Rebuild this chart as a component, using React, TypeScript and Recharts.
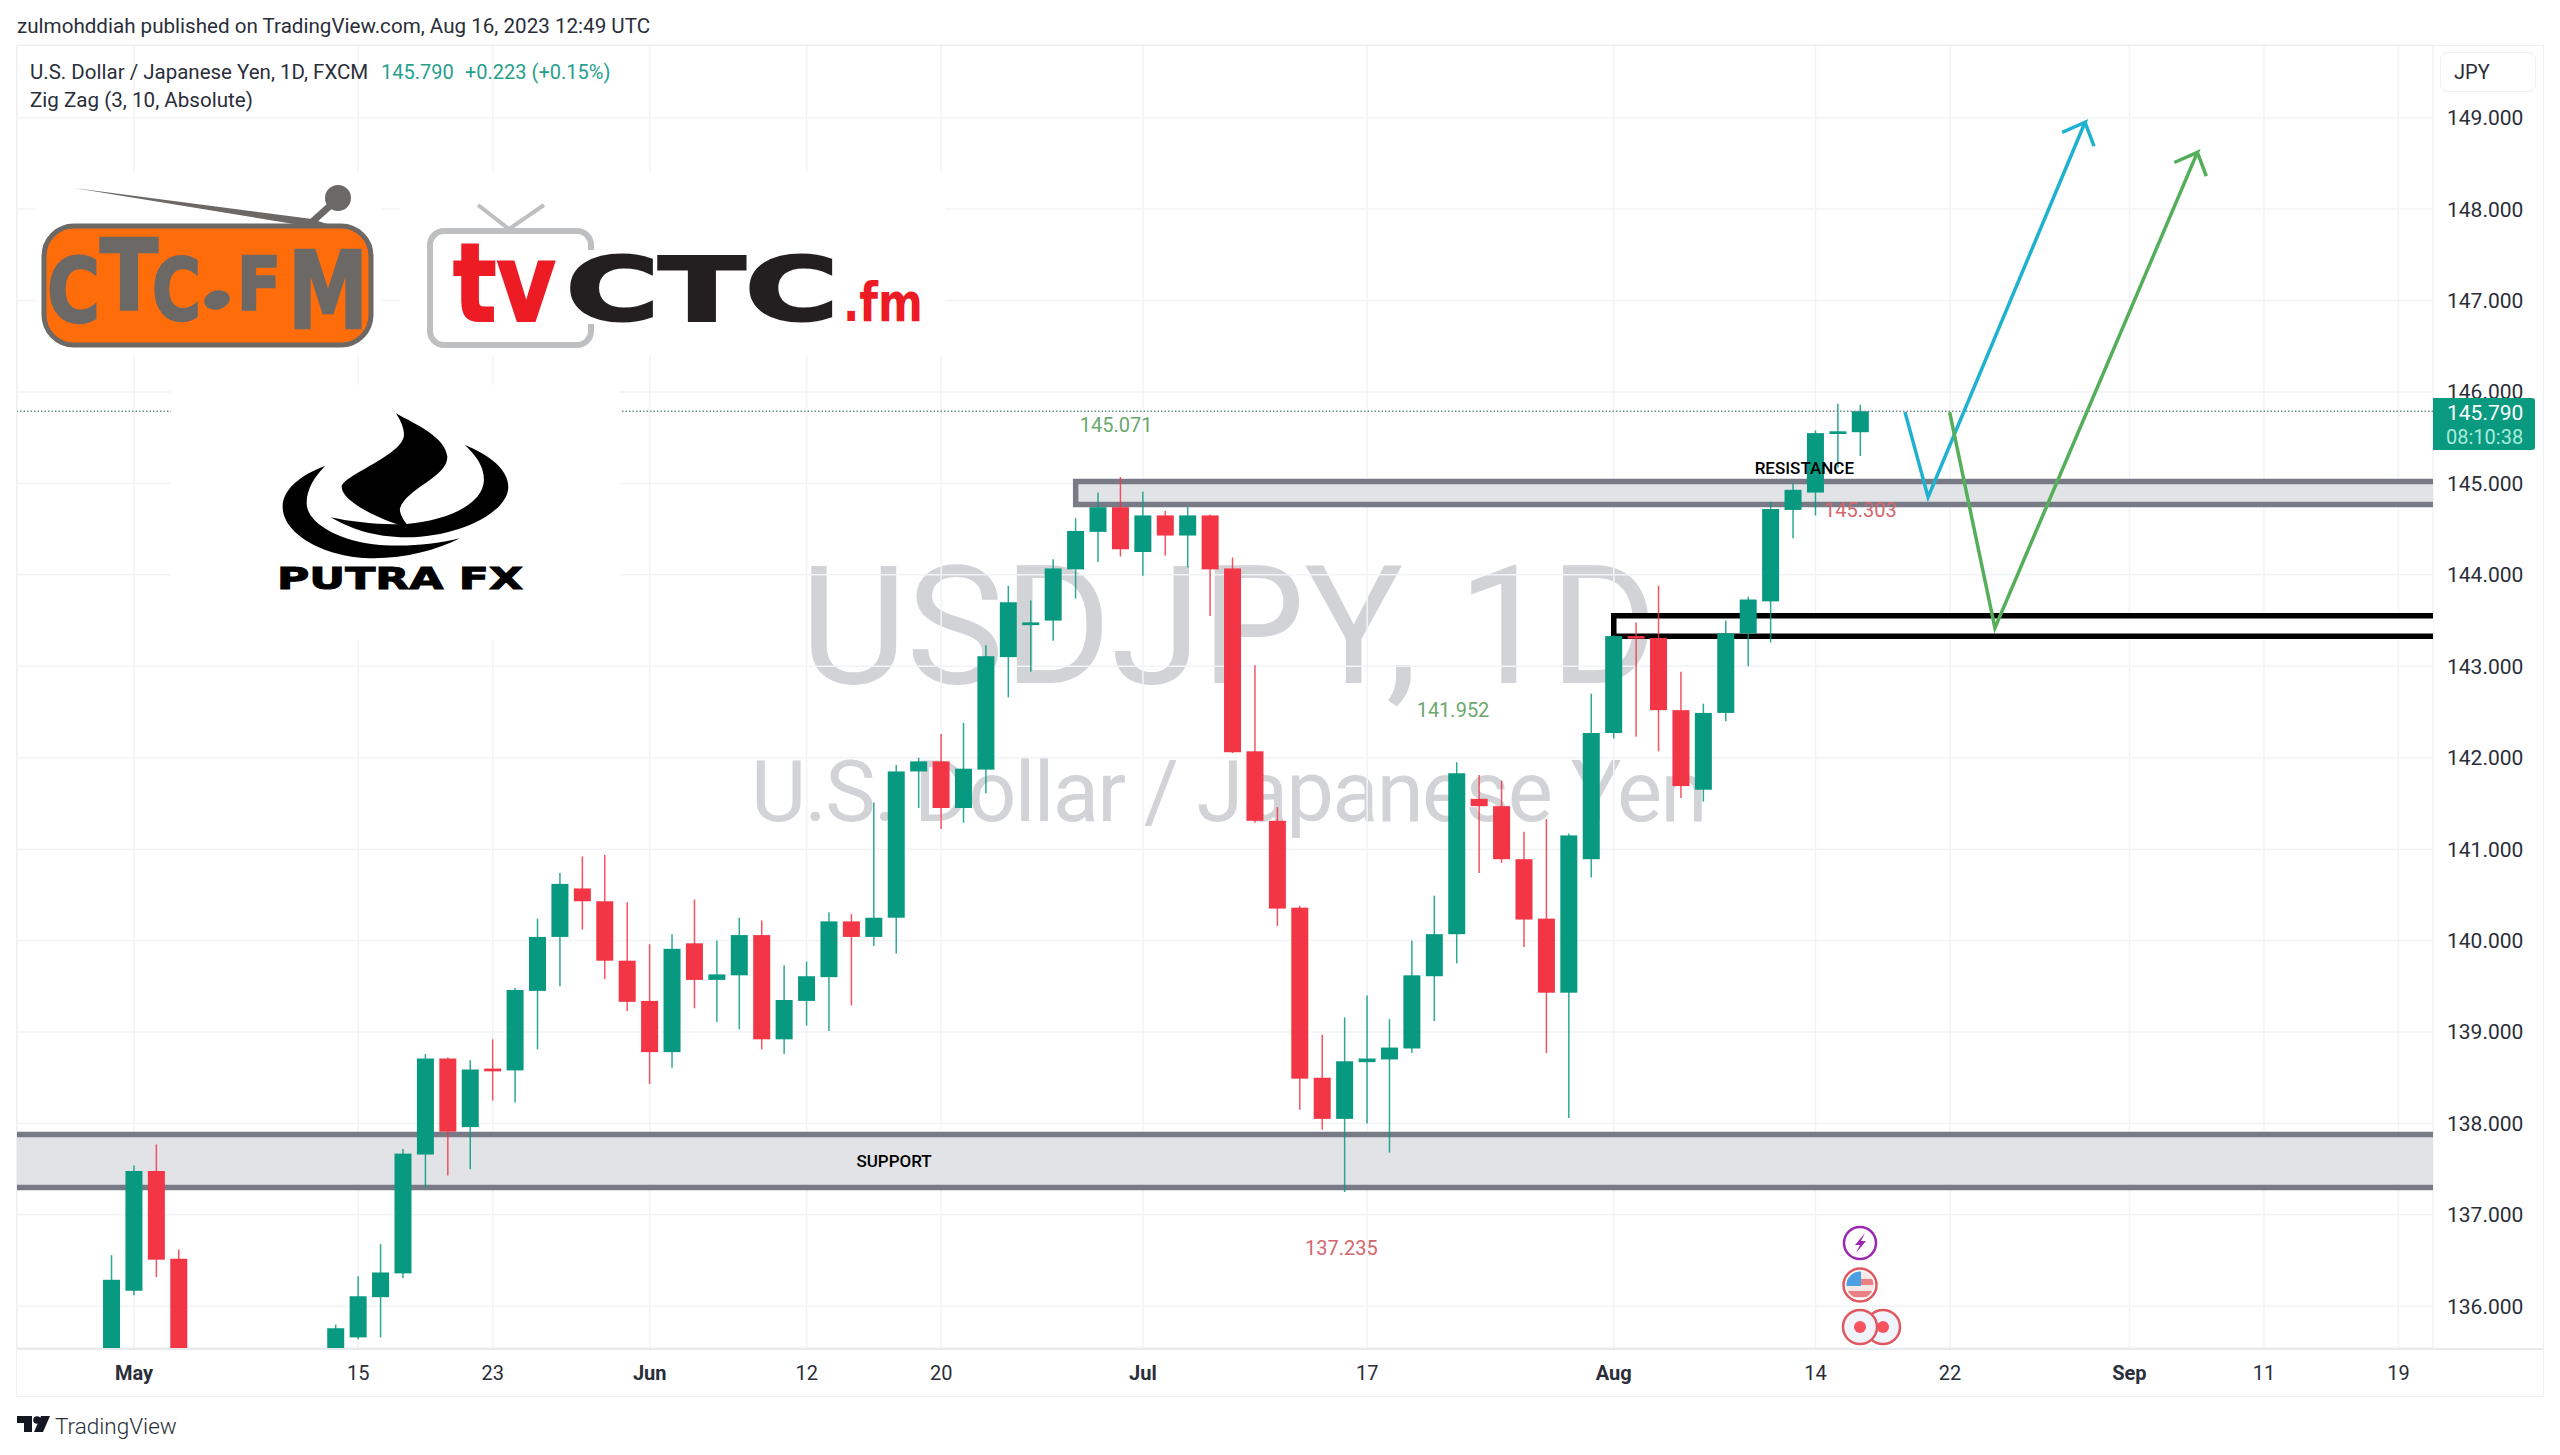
import {
  Bar,
  CartesianGrid,
  ComposedChart,
  Line,
  ReferenceArea,
  ReferenceDot,
  ReferenceLine,
  XAxis,
  YAxis,
} from 'recharts';

const FONT = 'Roboto, sans-serif';
const UP = '#089981';
const DOWN = '#f23645';
const ZONE_GREY = '#787b86';
const CANDLE_WIDTH = 17;

// first bar is Apr 28, bar index 0 = May 1, ten bars per row
const FIRST_BAR = -1;
const opens = [
  133.9, 136.17, 137.48, 136.52, 134.7, 134.2, 134.8, 135.1, 135.2, 134.4,
  134.6, 135.66, 136.1, 136.36, 137.66, 138.71, 137.96, 138.6, 138.58, 139.45,
  140.04, 140.57, 140.43, 139.78, 139.34, 138.78, 139.97, 139.57, 139.62, 140.06,
  138.92, 139.34, 139.6, 140.21, 140.04, 140.25, 141.85, 141.96, 141.45, 141.87,
  143.1, 143.45, 143.5, 144.06, 144.47, 144.74, 144.25, 144.65, 144.43, 144.65,
  144.07, 142.07, 141.31, 140.36, 138.5, 138.05, 138.67, 138.7, 138.82, 139.61,
  140.07, 141.55, 141.47, 140.89, 140.24, 139.43, 140.89, 142.27, 143.33, 143.31,
  142.52, 141.65, 142.49, 143.36, 143.71, 144.71, 144.9, 145.54, 145.56,
];
const highs = [
  136.56, 137.54, 137.77, 136.62, 135.1, 135.2, 135.4, 135.45, 135.4, 135.1,
  135.8, 136.33, 136.68, 137.72, 138.76, 138.72, 138.69, 138.92, 139.48, 140.24,
  140.74, 140.92, 140.94, 140.42, 139.96, 140.07, 140.45, 140.0, 140.25, 140.22,
  139.73, 139.77, 140.31, 140.29, 141.51, 141.92, 142.0, 142.26, 142.38, 143.23,
  143.88, 143.72, 144.17, 144.62, 144.9, 145.07, 144.91, 144.7, 144.74, 144.66,
  144.19, 143.01, 141.46, 140.38, 138.97, 139.16, 139.4, 139.14, 140.0, 140.49,
  141.95, 141.81, 141.75, 141.19, 141.33, 141.17, 142.7, 143.34, 143.48, 143.88,
  142.94, 142.59, 143.5, 143.76, 144.8, 145.0, 145.58, 145.87, 145.86,
];
const lows = [
  133.8, 136.12, 136.32, 134.5, 133.7, 134.0, 134.4, 134.6, 134.2, 134.0,
  134.5, 135.64, 135.66, 136.31, 137.3, 137.43, 137.5, 138.25, 138.23, 138.81,
  139.5, 140.12, 139.58, 139.23, 138.43, 138.61, 139.26, 139.11, 139.03, 138.81,
  138.76, 139.07, 139.01, 139.29, 139.94, 139.86, 141.45, 141.22, 141.29, 141.61,
  142.66, 142.94, 143.28, 143.74, 144.14, 144.2, 143.99, 144.21, 144.08, 143.55,
  142.05, 141.29, 140.16, 138.15, 137.93, 137.25, 138.0, 137.68, 138.77, 139.12,
  139.75, 140.74, 140.85, 139.93, 138.77, 138.06, 140.69, 142.21, 142.23, 142.07,
  141.56, 141.52, 142.4, 143.0, 143.26, 144.4, 144.65, 145.17, 145.3,
];
const closes = [
  136.29, 137.48, 136.51, 134.7, 134.2, 134.8, 135.1, 135.2, 134.4, 134.5,
  135.76, 136.11, 136.37, 137.67, 138.71, 137.91, 138.59, 138.57, 139.46, 140.04,
  140.62, 140.43, 139.78, 139.33, 138.78, 139.91, 139.57, 139.63, 140.06, 138.92,
  139.35, 139.61, 140.21, 140.04, 140.25, 141.85, 141.96, 141.45, 141.88, 143.11,
  143.7, 143.48, 144.07, 144.48, 144.74, 144.28, 144.65, 144.43, 144.65, 144.06,
  142.06, 141.31, 140.35, 138.49, 138.05, 138.68, 138.71, 138.83, 139.62, 140.07,
  141.83, 141.47, 140.89, 140.23, 139.43, 141.15, 142.27, 143.33, 143.31, 142.52,
  141.69, 142.49, 143.36, 143.73, 144.72, 144.93, 145.55, 145.57, 145.79,
];

const xTicks = [0, 10, 16, 23, 30, 36, 45, 55, 66, 75, 81, 89, 95, 101];
const xLabels = ['May', '15', '23', 'Jun', '12', '20', 'Jul', '17', 'Aug', '14', '22', 'Sep', '11', '19'];
const monthLabels = ['May', 'Jun', 'Jul', 'Aug', 'Sep'];
const yTicks = [136, 137, 138, 139, 140, 141, 142, 143, 144, 145, 146, 147, 148, 149];

const lastPrice = 145.79;
const resistance = { fromBar: 42, top: 145.02, bottom: 144.77 };
const demand = { fromBar: 66, top: 143.553, bottom: 143.328 };
const support = { top: 137.88, bottom: 137.3 };

// forecast drawings, bar index and price, arrow head at the end
const blueBars = [78.99, 80.02, 87.02, 86.0, 87.02, 87.42];
const bluePrices = [145.78, 144.85, 148.95, 148.84, 148.95, 148.69];
const greenBars = [80.98, 83.0, 92.03, 91.0, 92.03, 92.43];
const greenPrices = [145.78, 143.42, 148.62, 148.51, 148.62, 148.36];

const zigzagLabels = [
  { text: '145.071', bar: 43.8, price: 145.64, color: '#6aa86e' },
  { text: '141.952', bar: 58.83, price: 142.52, color: '#6aa86e' },
  { text: '137.235', bar: 53.85, price: 136.64, color: '#d4666e' },
  { text: '145.303', bar: 77.0, price: 144.71, color: '#d4666e' },
];

const X_MIN = -5.22;
const X_MAX = 102.54;

const candles = closes.map((close, n) => ({
  bar: FIRST_BAR + n,
  open: opens[n],
  close,
  range: [lows[n], highs[n]],
}));
const blueLine = blueBars.map((bar, n) => ({ bar, price: bluePrices[n] }));
const greenLine = greenBars.map((bar, n) => ({ bar, price: greenPrices[n] }));

function Candle(props: any) {
  const { x, y, width, height, payload } = props;
  const [low, high] = payload.range;
  const perUnit = height / (high - low);
  const bodyTop = y + (high - Math.max(payload.open, payload.close)) * perUnit;
  const bodyHeight = Math.max(Math.abs(payload.open - payload.close) * perUnit, 2.5);
  const color = payload.close >= payload.open ? UP : DOWN;
  const mid = x + width / 2;
  return (
    <g>
      <line x1={mid} x2={mid} y1={y} y2={y + height} stroke={color} strokeWidth={1.5} strokeOpacity={0.85} />
      <rect x={mid - CANDLE_WIDTH / 2} y={bodyTop} width={CANDLE_WIDTH} height={bodyHeight} fill={color} />
    </g>
  );
}

function OpenRightZone(props: any) {
  const { x, y, width, height, stroke, fill } = props;
  const right = x + width;
  return (
    <g>
      <rect x={x} y={y} width={width} height={height} fill={fill} />
      <path d={`M${right} ${y}H${x}V${y + height}H${right}`} fill="none" stroke={stroke} strokeWidth={5.5} />
    </g>
  );
}

function LinesOnlyZone(props: any) {
  const { x, y, width, height, stroke, fill } = props;
  const right = x + width;
  return (
    <g>
      <rect x={x} y={y} width={width} height={height} fill={fill} />
      <path d={`M${x} ${y}H${right}M${x} ${y + height}H${right}`} fill="none" stroke={stroke} strokeWidth={5.5} />
    </g>
  );
}

function TimeTick(props: any) {
  const { x, payload } = props;
  const label = xLabels[xTicks.indexOf(payload.value)];
  const isMonth = monthLabels.includes(label);
  return (
    <text
      x={x}
      y={1373}
      textAnchor="middle"
      dominantBaseline="central"
      fontFamily={FONT}
      fontSize={20}
      fontWeight={isMonth ? 700 : 400}
      fill="#2a2e39"
    >
      {label}
    </text>
  );
}

function PriceChart() {
  return (
    <ComposedChart
      width={2560}
      height={1455}
      data={candles}
      margin={{ top: 45, left: 17, right: 17, bottom: 59 }}
      style={{ position: 'absolute', left: 0, top: 0 }}
    >
      <CartesianGrid stroke="#f1f3f6" strokeWidth={1.5} />
      <XAxis
        type="number"
        dataKey="bar"
        domain={[X_MIN, X_MAX]}
        ticks={xTicks}
        interval={0}
        allowDataOverflow
        height={48}
        axisLine={false}
        tickLine={false}
        tick={<TimeTick />}
      />
      <YAxis
        orientation="right"
        type="number"
        domain={[135.544, 149.795]}
        ticks={yTicks}
        interval={0}
        allowDataOverflow
        width={110}
        axisLine={false}
        tickLine={false}
        tickMargin={8}
        tick={{ fill: '#2a2e39', fontSize: 21, fontFamily: FONT }}
        tickFormatter={(value: number) => value.toFixed(3)}
      />
      <ReferenceLine y={lastPrice} stroke="#6b8f88" strokeWidth={1.5} strokeDasharray="1.5 2" />
      {zigzagLabels.map((item) => (
        <ReferenceDot
          key={item.text}
          x={item.bar}
          y={item.price}
          r={0}
          label={{ value: item.text, position: 'center', fill: item.color, fontSize: 20, fontFamily: FONT }}
        />
      ))}
      <ReferenceArea
        x1={X_MIN}
        x2={X_MAX}
        y1={support.bottom}
        y2={support.top}
        fill="#e2e3e6"
        fillOpacity={1}
        stroke={ZONE_GREY}
        shape={<LinesOnlyZone />}
      />
      <ReferenceArea
        x1={resistance.fromBar}
        x2={X_MAX}
        y1={resistance.bottom}
        y2={resistance.top}
        fill="#e2e3e6"
        fillOpacity={1}
        stroke={ZONE_GREY}
        shape={<OpenRightZone />}
      />
      <ReferenceArea
        x1={demand.fromBar}
        x2={X_MAX}
        y1={demand.bottom}
        y2={demand.top}
        fill="#ffffff"
        fillOpacity={1}
        stroke="#000000"
        shape={<OpenRightZone />}
      />
      <ReferenceDot
        x={33.9}
        y={137.59}
        r={0}
        label={{ value: 'SUPPORT', position: 'center', fill: '#000', fontSize: 17, fontWeight: 500, fontFamily: FONT }}
      />
      <ReferenceDot
        x={74.5}
        y={145.17}
        r={0}
        label={{ value: 'RESISTANCE', position: 'center', fill: '#000', fontSize: 17, fontWeight: 500, fontFamily: FONT }}
      />
      <Bar dataKey="range" shape={<Candle />} isAnimationActive={false} />
      <Line
        data={blueLine}
        dataKey="price"
        type="linear"
        stroke="#1fb2d0"
        strokeWidth={3.5}
        dot={false}
        activeDot={false}
        isAnimationActive={false}
      />
      <Line
        data={greenLine}
        dataKey="price"
        type="linear"
        stroke="#55ae5a"
        strokeWidth={3.5}
        dot={false}
        activeDot={false}
        isAnimationActive={false}
      />
    </ComposedChart>
  );
}

function Logos() {
  const bold = 'DejaVu Sans, sans-serif';
  const ctcLetters = [
    { c: 'C', x: 47, w: 53, top: 257, base: 322 },
    { c: 'T', x: 100, w: 58, top: 238, base: 310 },
    { c: 'C', x: 152, w: 49, top: 257, base: 320 },
    { c: 'F', x: 237, w: 44, top: 257, base: 310 },
    { c: 'M', x: 288, w: 80, top: 250, base: 328 },
  ];
  return (
    <svg width={2560} height={1455} style={{ position: 'absolute', left: 0, top: 0 }}>
      <rect x={36} y={172} width={346} height={183} fill="#fff" />
      <rect x={400} y={172} width={545} height={183} fill="#fff" />
      <rect x={171} y={385} width={449} height={255} fill="#fff" />

      {/* CTC.FM radio */}
      <path d="M74 188 L312 219 L330 225 L300 225 Z" fill="#6b6866" />
      <line x1={312} y1={222} x2={332} y2={204} stroke="#6b6866" strokeWidth={7} />
      <circle cx={338} cy={198} r={13} fill="#6b6866" />
      <rect x={44} y={226} width={327} height={119} rx={30} fill="#ff6d0a" stroke="#6b6866" strokeWidth={5} />
      {ctcLetters.map((l, n) => (
        <text
          key={n}
          x={l.x}
          y={l.base}
          fontFamily={bold}
          fontWeight={700}
          fontSize={(l.base - l.top) / 0.73}
          textLength={l.w}
          lengthAdjust="spacingAndGlyphs"
          fill="#6b6866"
          stroke="#6b6866"
          strokeWidth={2.5}
        >
          {l.c}
        </text>
      ))}
      <ellipse cx={217} cy={300} rx={13} ry={9.5} fill="#6b6866" transform="rotate(-15 217 300)" />

      {/* tvCTC.fm */}
      <path d="M478 205 L509 229 L544 205" fill="none" stroke="#bdbfc1" strokeWidth={4} />
      <rect x={430} y={231} width={161} height={114} rx={14} fill="#fff" stroke="#bdbfc1" strokeWidth={6} />
      <rect x={570} y={250} width={40} height={74} fill="#fff" />
      <text x={453} y={321} fontFamily={bold} fontWeight={700} fontSize={108} textLength={103} lengthAdjust="spacingAndGlyphs" fill="#ed1c24" stroke="#ed1c24" strokeWidth={2}>
        tv
      </text>
      <text x={566} y={320} fontFamily={bold} fontWeight={700} fontSize={88} textLength={272} lengthAdjust="spacingAndGlyphs" fill="#231f20" stroke="#231f20" strokeWidth={3}>
        CTC
      </text>
      <text x={843} y={321} fontFamily={bold} fontWeight={700} fontSize={53} textLength={80} lengthAdjust="spacingAndGlyphs" fill="#ed1c24">
        .fm
      </text>

      {/* PUTRA FX */}
      <g transform="translate(200 380) scale(0.3333)" fill="#000">
        <path d="M588 100 C650 135 735 170 742 230 C745 290 620 325 600 385 C598 400 610 420 622 434 L600 436 C520 410 425 360 425 320 C430 285 610 225 612 165 C612 140 600 120 588 100 Z" />
        <path d="M795 195 C870 225 925 270 925 320 C925 400 770 472 620 472 C520 472 450 445 392 412 C450 425 540 436 620 432 C750 420 850 370 852 300 C852 255 825 225 795 195 Z" />
        <path d="M375 258 C300 285 248 330 248 380 C248 465 380 535 520 535 C620 535 710 510 780 475 C700 495 620 500 540 495 C420 485 320 430 320 370 C320 325 345 290 375 258 Z" />
      </g>
      <text x={277} y={589} fontFamily={bold} fontWeight={700} fontSize={30} textLength={246} lengthAdjust="spacingAndGlyphs" fill="#000" stroke="#000" strokeWidth={1}>
        PUTRA FX
      </text>

      {/* chart event markers */}
      <circle cx={1860} cy={1243} r={16} fill="#fff" stroke="#9c27b0" strokeWidth={2.5} />
      <path d="M1865 1233 L1855 1245 L1860 1245 L1856 1253 L1866 1241 L1861 1241 Z" fill="#9c27b0" />
      <clipPath id="flagClip">
        <circle cx={1860} cy={1285} r={13.5} />
      </clipPath>
      <circle cx={1860} cy={1285} r={16.5} fill="#fff" stroke="#e0585f" strokeWidth={2.5} />
      <g clipPath="url(#flagClip)">
        <rect x={1846} y={1271} width={28} height={28} fill="#f7e6e6" />
        <rect x={1846} y={1279} width={28} height={6} fill="#ea7f84" />
        <rect x={1846} y={1291} width={28} height={6} fill="#ea7f84" />
        <rect x={1846} y={1271} width={15} height={15} fill="#4c9fe0" />
      </g>
      <circle cx={1883} cy={1327} r={17} fill="#f0f3fa" stroke="#e0585f" strokeWidth={2.5} />
      <circle cx={1883} cy={1327} r={6} fill="#f7525f" />
      <circle cx={1860} cy={1327} r={17} fill="#f0f3fa" stroke="#e0585f" strokeWidth={2.5} />
      <circle cx={1860} cy={1327} r={6} fill="#f7525f" />
    </svg>
  );
}

function Chrome() {
  const textBase = { position: 'absolute' as const, fontFamily: FONT, whiteSpace: 'nowrap' as const, lineHeight: 1 };
  return (
    <>
      <div style={{ ...textBase, left: 17, top: 16, fontSize: 20.6, color: '#2a2e39' }}>
        zulmohddiah published on TradingView.com, Aug 16, 2023 12:49 UTC
      </div>
      <div style={{ ...textBase, left: 30, top: 62, fontSize: 20.5, color: '#2a2e39' }}>
        U.S. Dollar / Japanese Yen, 1D, FXCM
      </div>
      <div style={{ ...textBase, left: 381, top: 62, fontSize: 20, color: '#26a08c' }}>145.790</div>
      <div style={{ ...textBase, left: 465, top: 62, fontSize: 20, color: '#26a08c' }}>+0.223 (+0.15%)</div>
      <div style={{ ...textBase, left: 30, top: 90, fontSize: 20.6, color: '#2a2e39' }}>Zig Zag (3, 10, Absolute)</div>

      <div
        style={{
          position: 'absolute',
          left: 2440,
          top: 52,
          width: 94,
          height: 38,
          border: '1.5px solid #eef0f4',
          borderRadius: 8,
        }}
      />
      <div style={{ ...textBase, left: 2454, top: 62, fontSize: 20, color: '#2a2e39' }}>JPY</div>

      <div
        style={{
          position: 'absolute',
          left: 2433,
          top: 398,
          width: 102,
          height: 52,
          background: '#0a9a80',
          borderRadius: '0 3px 3px 0',
        }}
      />
      <div style={{ ...textBase, left: 2447, top: 403, fontSize: 21, color: '#ffffff' }}>145.790</div>
      <div style={{ ...textBase, left: 2446, top: 427, fontSize: 20, color: '#a8ecdc' }}>08:10:38</div>

      {/* frame */}
      <div
        style={{
          position: 'absolute',
          left: 16,
          top: 45,
          width: 2526,
          height: 1350,
          border: '1.5px solid #eef0f4',
          pointerEvents: 'none',
        }}
      />
      <div style={{ position: 'absolute', left: 17, top: 1348, width: 2526, height: 1.5, background: '#e8eaee' }} />

      {/* footer */}
      <svg width={34} height={18} style={{ position: 'absolute', left: 17, top: 1415 }}>
        <path d="M0 1H15V17H7V8H0Z M33 1L26 17H17L24 1Z" fill="#131722" />
        <circle cx={20} cy={5} r={3.8} fill="#131722" />
      </svg>
      <div style={{ ...textBase, left: 55, top: 1415, fontSize: 22.5, fontWeight: 300, color: '#2a2e39' }}>TradingView</div>
    </>
  );
}

function Watermark() {
  const base = { position: 'absolute' as const, fontFamily: FONT, color: '#d1d3d7', whiteSpace: 'nowrap' as const, lineHeight: 1 };
  return (
    <>
      <div style={{ ...base, left: 800, top: 544, fontSize: 165, letterSpacing: -0.8 }}>USDJPY, 1D</div>
      <div style={{ ...base, left: 751, top: 750, fontSize: 85, letterSpacing: -1.7 }}>U.S. Dollar / Japanese Yen</div>
    </>
  );
}

export default function App() {
  return (
    <div style={{ position: 'absolute', left: 0, top: 0, width: 2560, height: 1455, background: '#fff', overflow: 'hidden' }}>
      <Watermark />
      <PriceChart />
      <Logos />
      <Chrome />
    </div>
  );
}
